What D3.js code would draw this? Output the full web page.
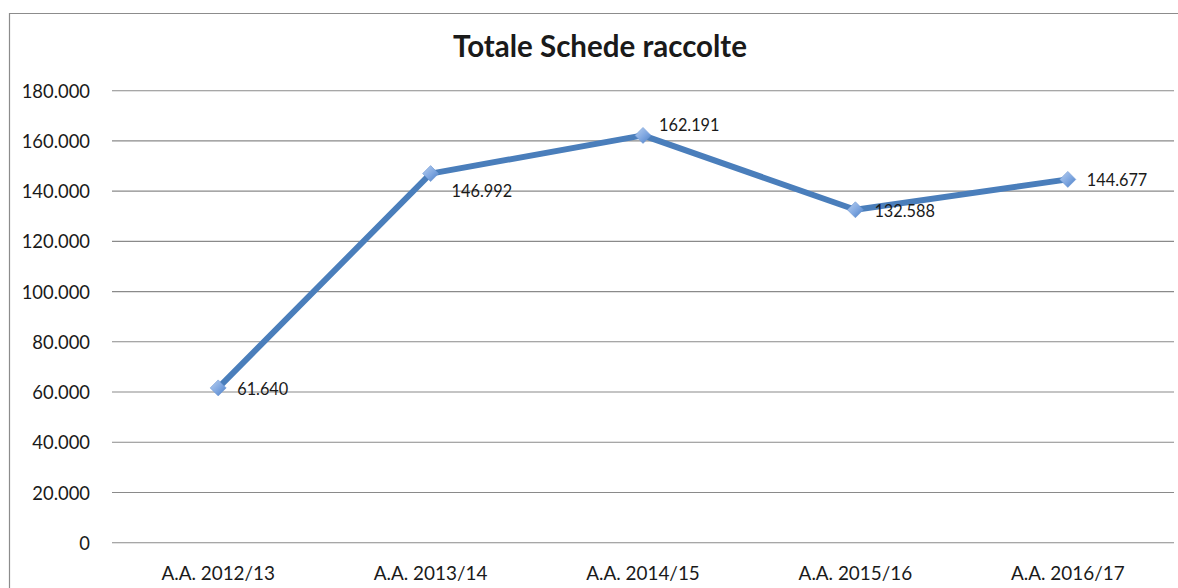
<!DOCTYPE html>
<html>
<head>
<meta charset="utf-8">
<script src="https://cdn.jsdelivr.net/npm/d3@7"></script>
<style>
  html, body { margin: 0; padding: 0; background: #fff; }
  svg { display: block; }
  text { font-family: Lato, "Open Sans", sans-serif; fill: #1a1a1a; }
</style>
</head>
<body>
<svg id="chart" width="1178" height="588"></svg>
<script>
// ---- data ----
const title = "Totale Schede raccolte";
const categories = ["A.A. 2012/13", "A.A. 2013/14", "A.A. 2014/15", "A.A. 2015/16", "A.A. 2016/17"];
const values = [61640, 146992, 162191, 132588, 144677];
const valueLabels = ["61.640", "146.992", "162.191", "132.588", "144.677"];
const yTicks = [0, 20000, 40000, 60000, 80000, 100000, 120000, 140000, 160000, 180000];
const labelPlacement = ["right", "belowRight", "aboveRight", "right", "right"];

// ---- layout ----
const W = 1178, H = 588;
const plot = { left: 112, right: 1174, top: 90.7, bottom: 542.7 };
const svg = d3.select("#chart");

const defs = svg.append("defs");
const grad = defs.append("linearGradient").attr("id", "mk")
  .attr("x1", "0").attr("y1", "0").attr("x2", "1").attr("y2", "1");
grad.append("stop").attr("offset", "0%").attr("stop-color", "#b9d0f0");
grad.append("stop").attr("offset", "55%").attr("stop-color", "#7ea6e0");
grad.append("stop").attr("offset", "100%").attr("stop-color", "#4a7ec4");

// outer border (left + top visible)
svg.append("path")
  .attr("d", `M9.5,${H} L9.5,13.5 L${W},13.5`)
  .attr("fill", "none").attr("stroke", "#8c8c8c").attr("stroke-width", 1.2);

const x = d3.scaleBand().domain(categories).range([plot.left, plot.right]);
const y = d3.scaleLinear().domain([0, 180000]).range([plot.bottom, plot.top]);

const fmt = v => v === 0 ? "0" : d3.format(",")(v).replace(/,/g, ".");

// gridlines
svg.append("g").selectAll("line").data(yTicks).join("line")
  .attr("x1", plot.left).attr("x2", plot.right)
  .attr("y1", d => y(d)).attr("y2", d => y(d))
  .attr("stroke", "#8a8a8a").attr("stroke-width", 1.1);

// y axis labels
const yAxis = d3.axisLeft(y).tickValues(yTicks).tickFormat(fmt).tickSize(0).tickPadding(0);
const gy = svg.append("g").attr("transform", "translate(90,0)").call(yAxis);
gy.select(".domain").remove();
gy.selectAll("text").attr("font-size", 18.4).attr("fill", "#1a1a1a")
  .style("font-family", "Lato, 'Open Sans', sans-serif").attr("dy", "0.36em");

// x axis labels
const xAxis = d3.axisBottom(x).tickSize(0).tickPadding(0);
const gx = svg.append("g").attr("transform", `translate(0,${plot.bottom})`).call(xAxis);
gx.select(".domain").remove();
gx.selectAll("text").attr("font-size", 18.9).attr("fill", "#1a1a1a")
  .style("font-family", "Lato, 'Open Sans', sans-serif").attr("dy", null).attr("y", 37);

// title
svg.append("text").attr("x", 600).attr("y", 57).attr("text-anchor", "middle")
  .attr("font-size", 29.5).attr("font-weight", "bold").attr("fill", "#111").text(title);

// line
const cx = (d, i) => x(categories[i]) + x.bandwidth() / 2;
const line = d3.line().x(cx).y(d => y(d));
svg.append("path").datum(values).attr("d", line)
  .attr("fill", "none").attr("stroke", "#4a7ebb").attr("stroke-width", 6)
  .attr("stroke-linejoin", "round").attr("stroke-linecap", "round");

// markers
svg.append("g").selectAll("path").data(values).join("path")
  .attr("transform", (d, i) => `translate(${cx(d, i)},${y(d)})`)
  .attr("d", "M0,-8 L8,0 L0,8 L-8,0 Z")
  .attr("fill", "url(#mk)").attr("stroke", "#6d97d4").attr("stroke-width", 0.6);

// data labels
const off = { right: [19, 7], belowRight: [21, 23], aboveRight: [16, -4] };
svg.append("g").selectAll("text").data(values).join("text")
  .attr("x", (d, i) => cx(d, i) + off[labelPlacement[i]][0])
  .attr("y", (d, i) => y(d) + off[labelPlacement[i]][1])
  .attr("font-size", 16.3).attr("fill", "#1a1a1a")
  .text((d, i) => valueLabels[i]);
</script>
</body>
</html>
